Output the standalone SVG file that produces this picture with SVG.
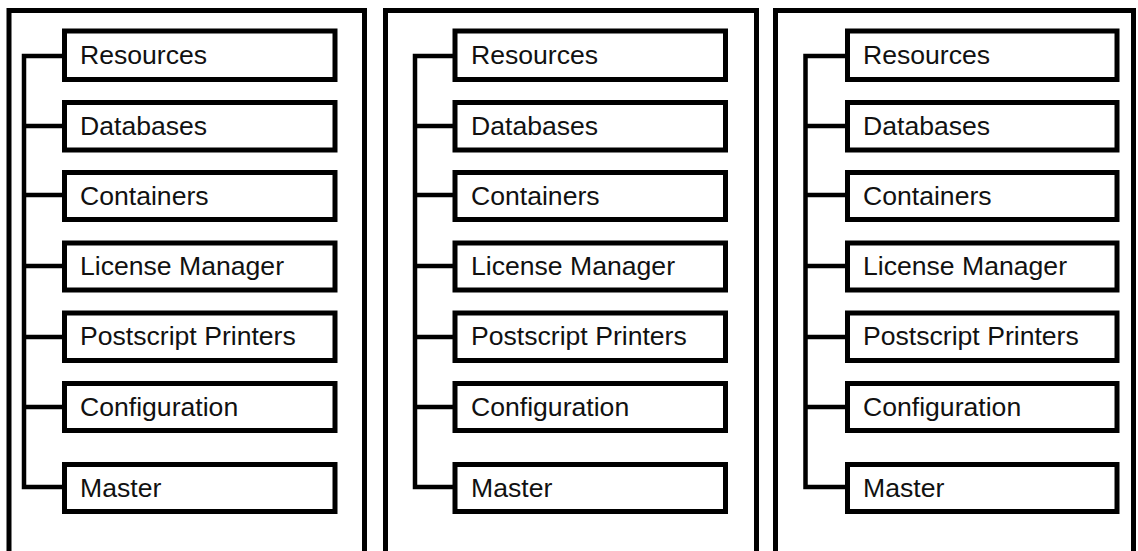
<svg xmlns="http://www.w3.org/2000/svg" width="1138" height="551" viewBox="0 0 1138 551">
<style>
.panel{fill:#fff;stroke:#000;stroke-width:5}
.box{fill:#fff;stroke:#000;stroke-width:5}
.conn{fill:none;stroke:#000;stroke-width:4.5;stroke-linejoin:miter}
.lbl{font-family:"Liberation Sans",Arial,sans-serif;font-size:26.6px;fill:#111}
</style>
<rect width="1138" height="551" fill="#fff"/>
<g id="panels">
<rect class="panel" x="9" y="10.5" width="355.5" height="560"/>
<rect class="panel" x="385.5" y="10.5" width="371" height="560"/>
<rect class="panel" x="775.5" y="10.5" width="358" height="560"/>
</g>
<g id="connectors">
<path class="conn" d="M64.5,56 H24 V487 H64.5 M24,126 H64.5 M24,195 H64.5 M24,266 H64.5 M24,337 H64.5 M24,407 H64.5"/>
<path class="conn" d="M455,56 H415 V487 H455 M415,126 H455 M415,195 H455 M415,266 H455 M415,337 H455 M415,407 H455"/>
<path class="conn" d="M847.5,56 H805.5 V487 H847.5 M805.5,126 H847.5 M805.5,195 H847.5 M805.5,266 H847.5 M805.5,337 H847.5 M805.5,407 H847.5"/>
</g>
<g id="p1-resources"><rect class="box" x="64.5" y="31" width="270.5" height="48.5"/><text class="lbl" x="80" y="64">Resources</text></g>
<g id="p1-databases"><rect class="box" x="64.5" y="102.5" width="270.5" height="47.5"/><text class="lbl" x="80" y="135">Databases</text></g>
<g id="p1-containers"><rect class="box" x="64.5" y="172.5" width="270.5" height="47"/><text class="lbl" x="80" y="205">Containers</text></g>
<g id="p1-license"><rect class="box" x="64.5" y="243" width="270.5" height="47"/><text class="lbl" x="80" y="275">License Manager</text></g>
<g id="p1-postscript"><rect class="box" x="64.5" y="313" width="270.5" height="47.5"/><text class="lbl" x="80" y="345">Postscript Printers</text></g>
<g id="p1-configuration"><rect class="box" x="64.5" y="383.5" width="270.5" height="47"/><text class="lbl" x="80" y="416">Configuration</text></g>
<g id="p1-master"><rect class="box" x="64.5" y="464.5" width="270.5" height="47"/><text class="lbl" x="80" y="497">Master</text></g>
<g id="p2-resources"><rect class="box" x="455" y="31" width="270.5" height="48.5"/><text class="lbl" x="471" y="64">Resources</text></g>
<g id="p2-databases"><rect class="box" x="455" y="102.5" width="270.5" height="47.5"/><text class="lbl" x="471" y="135">Databases</text></g>
<g id="p2-containers"><rect class="box" x="455" y="172.5" width="270.5" height="47"/><text class="lbl" x="471" y="205">Containers</text></g>
<g id="p2-license"><rect class="box" x="455" y="243" width="270.5" height="47"/><text class="lbl" x="471" y="275">License Manager</text></g>
<g id="p2-postscript"><rect class="box" x="455" y="313" width="270.5" height="47.5"/><text class="lbl" x="471" y="345">Postscript Printers</text></g>
<g id="p2-configuration"><rect class="box" x="455" y="383.5" width="270.5" height="47"/><text class="lbl" x="471" y="416">Configuration</text></g>
<g id="p2-master"><rect class="box" x="455" y="464.5" width="270.5" height="47"/><text class="lbl" x="471" y="497">Master</text></g>
<g id="p3-resources"><rect class="box" x="847.5" y="31" width="269.5" height="48.5"/><text class="lbl" x="863" y="64">Resources</text></g>
<g id="p3-databases"><rect class="box" x="847.5" y="102.5" width="269.5" height="47.5"/><text class="lbl" x="863" y="135">Databases</text></g>
<g id="p3-containers"><rect class="box" x="847.5" y="172.5" width="269.5" height="47"/><text class="lbl" x="863" y="205">Containers</text></g>
<g id="p3-license"><rect class="box" x="847.5" y="243" width="269.5" height="47"/><text class="lbl" x="863" y="275">License Manager</text></g>
<g id="p3-postscript"><rect class="box" x="847.5" y="313" width="269.5" height="47.5"/><text class="lbl" x="863" y="345">Postscript Printers</text></g>
<g id="p3-configuration"><rect class="box" x="847.5" y="383.5" width="269.5" height="47"/><text class="lbl" x="863" y="416">Configuration</text></g>
<g id="p3-master"><rect class="box" x="847.5" y="464.5" width="269.5" height="47"/><text class="lbl" x="863" y="497">Master</text></g>
</svg>
